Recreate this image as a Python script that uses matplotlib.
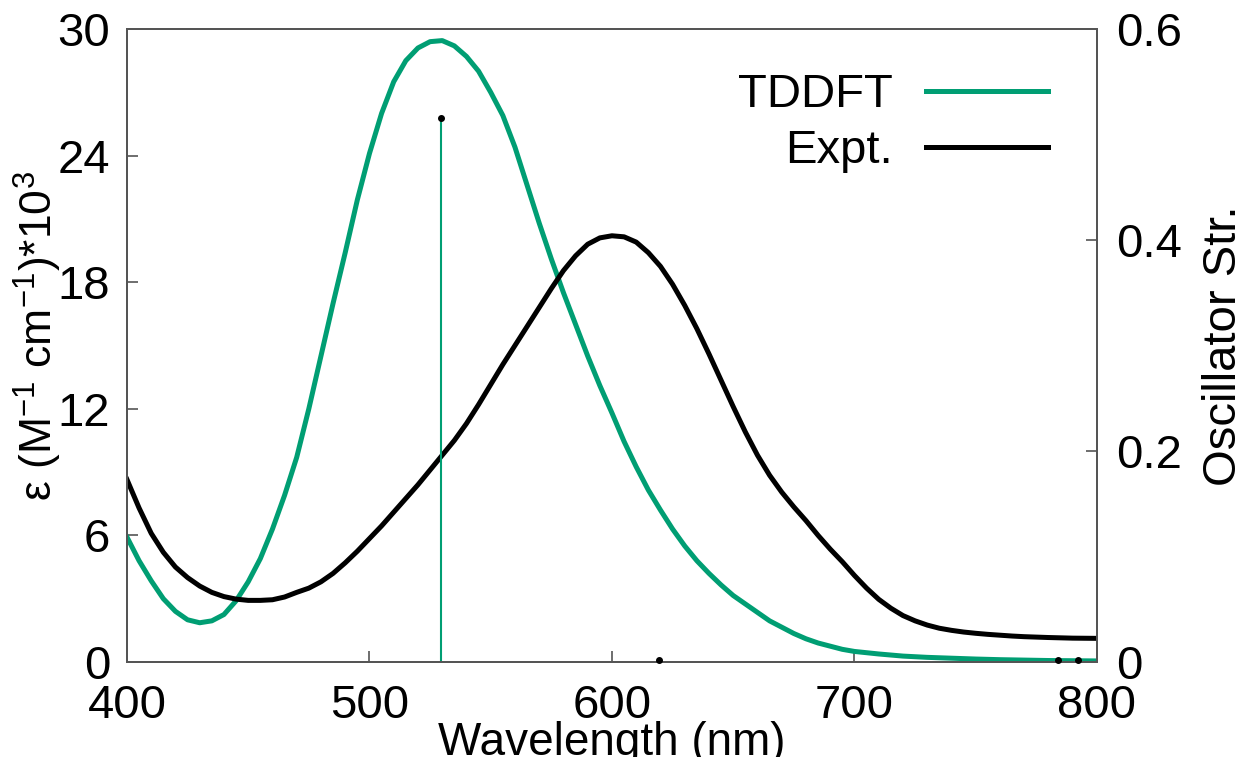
import numpy as np
import matplotlib
matplotlib.use("Agg")
import matplotlib.pyplot as plt

plt.rcParams["font.family"] = ["Liberation Sans", "DejaVu Sans"]
plt.rcParams["mathtext.fontset"] = "custom"
plt.rcParams["mathtext.rm"] = "Liberation Sans"
plt.rcParams["mathtext.default"] = "regular"

# wavelength grid (nm), 5 nm steps from 400 to 800
wavelength = np.arange(400, 805, 5)

# broadened TDDFT spectrum, eps * 1e-3
tddft = [5.92, 4.8, 3.85, 3.0, 2.4, 2.0, 1.86, 1.95, 2.25, 2.9,
         3.8, 4.9, 6.3, 7.9, 9.7, 12.0, 14.5, 17.0, 19.4, 21.9,
         24.1, 26.0, 27.5, 28.5, 29.1, 29.4, 29.45, 29.2, 28.7, 28.0,
         27.0, 25.9, 24.4, 22.6, 20.8, 19.1, 17.5, 16.0, 14.5, 13.1,
         11.8, 10.45, 9.25, 8.15, 7.2, 6.3, 5.5, 4.8, 4.2, 3.65,
         3.15, 2.75, 2.35, 1.95, 1.65, 1.35, 1.1, 0.9, 0.75, 0.6,
         0.5, 0.44, 0.38, 0.33, 0.28, 0.25, 0.22, 0.2, 0.18, 0.16,
         0.14, 0.125, 0.11, 0.1, 0.09, 0.08, 0.07, 0.065, 0.06, 0.055,
         0.05]

# measured absorption, eps * 1e-3
expt = [8.65, 7.3, 6.1, 5.2, 4.5, 4.0, 3.6, 3.3, 3.1, 2.98,
        2.92, 2.92, 2.95, 3.08, 3.3, 3.5, 3.8, 4.2, 4.7, 5.25,
        5.85, 6.45, 7.1, 7.75, 8.4, 9.1, 9.8, 10.5, 11.3, 12.2,
        13.15, 14.1, 15.0, 15.9, 16.8, 17.7, 18.55, 19.25, 19.8, 20.1,
        20.2, 20.15, 19.9, 19.4, 18.75, 17.9, 16.9, 15.8, 14.6, 13.35,
        12.1, 10.9, 9.8, 8.85, 8.05, 7.35, 6.7, 6.0, 5.35, 4.75,
        4.1, 3.5, 2.97, 2.55, 2.2, 1.95, 1.75, 1.6, 1.5, 1.42,
        1.36, 1.31, 1.27, 1.23, 1.2, 1.18, 1.16, 1.145, 1.13, 1.125,
        1.12]

# excitation wavelengths (nm) and oscillator strengths
stick_wl = [529.5, 619.5, 784.0, 792.0]
stick_f = [0.516, 0.002, 0.002, 0.002]

green = "#009E73"
frame = "#555555"

fig = plt.figure(figsize=(12.47, 7.57), dpi=100)
ax = fig.add_axes([0.1018, 0.1255, 0.7779, 0.8362])
ax2 = ax.twinx()

ax.plot(wavelength, tddft, color=green, lw=3.6, label="TDDFT", zorder=3,
        solid_joinstyle="round")
ax.plot(wavelength, expt, color="black", lw=3.6, label="Expt.", zorder=3,
        solid_joinstyle="round")

ax2.vlines(stick_wl, 0, stick_f, color=green, lw=1.5)
ax2.plot(stick_wl, stick_f, "o", color="black", ms=4, clip_on=False, zorder=4)

ax.set_xlim(400, 800)
ax.set_ylim(0, 30)
ax2.set_ylim(0, 0.6)

ax.set_xticks([400, 500, 600, 700, 800])
ax.set_yticks([0, 6, 12, 18, 24, 30])
ax2.set_yticks([0, 0.2, 0.4, 0.6])
ax2.set_yticklabels(["0", "0.2", "0.4", "0.6"])

for a in (ax, ax2):
    for s in a.spines.values():
        s.set_color(frame)
        s.set_linewidth(1.4)
    a.tick_params(direction="in", length=8, width=1.2, color=frame,
                  labelsize=34, colors="black")
ax.tick_params(axis="x", pad=16)
ax.tick_params(axis="y", pad=12, right=False)
ax2.tick_params(axis="y", pad=14)

ax.set_xlabel("Wavelength (nm)", fontsize=33, labelpad=-5)
ax.set_ylabel(r"ε (M$^{-1}$ cm$^{-1}$)*10$^{3}$", fontsize=32, labelpad=-6)
ax.yaxis.set_label_coords(-0.065, 0.515)
ax2.set_ylabel("Oscillator Str.", fontsize=34, labelpad=14)

ax.legend(loc="upper right", bbox_to_anchor=(0.95, 0.93), frameon=False,
          markerfirst=False, fontsize=34, handlelength=2.6,
          handletextpad=0.7, labelspacing=0.25, borderpad=0, borderaxespad=0)

fig.savefig("out.png", dpi=100)
